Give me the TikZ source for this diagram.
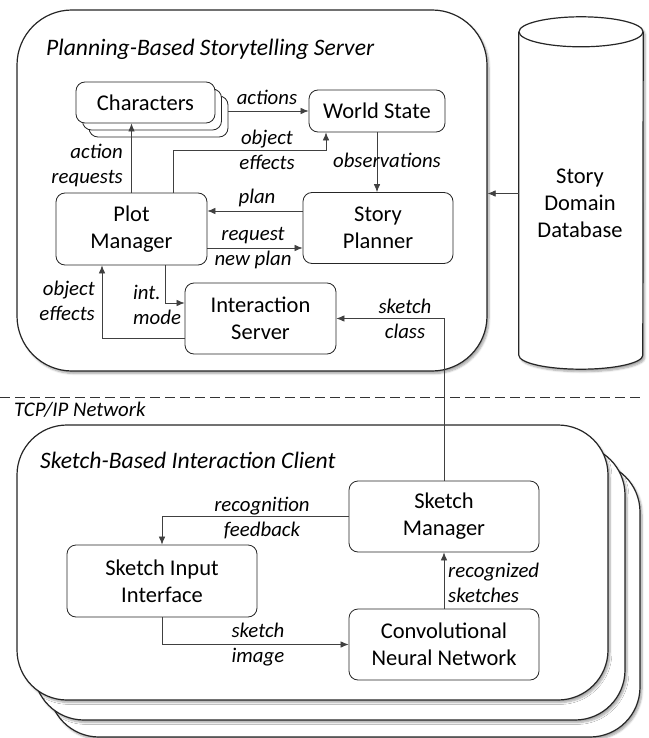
\documentclass[tikz,border=0pt]{standalone}
\usepackage{fontspec}
\setmainfont{Carlito}
\usetikzlibrary{arrows.meta,shadows.blur,calc}

\tikzset{
  boxtext/.style={font=\fontsize{22.5}{27}\selectfont},
  lbl/.style={font=\fontsize{20.8}{25}\selectfont\itshape, inner sep=0pt},
  grouptitle/.style={anchor=base west, inner sep=0pt, font=\fontsize{23.6}{28}\selectfont\itshape},
  unit/.style={draw=black!85, line width=0.8pt, fill=white, rounded corners=9pt,
    align=center, inner sep=0pt, boxtext},
  group/.style={draw=black!85, line width=1.2pt, fill=white, inner sep=0pt,
    blur shadow={shadow xshift=2pt, shadow yshift=-2.5pt, shadow blur steps=6,
      shadow opacity=35}},
  link/.style={draw=black!75, line width=0.7pt},
  arr/.style={link, -{Latex[length=8pt,width=6.5pt]}},
}

\begin{document}
\begin{tikzpicture}[x=1pt,y=-1pt]
\useasboundingbox (0,0) rectangle (648,738);

% ---------- server side ----------
\node[group, rounded corners=55pt, minimum width=470pt, minimum height=361pt]
  (server) at (252,190.5) {};
\node[grouptitle] (servertitle) at (46,56) {Planning-Based Storytelling Server};

% story domain database (cylinder)
\node[minimum width=124pt, minimum height=323pt, inner sep=0pt] (dbbody) at (581,193.5) {};
\fill[white, blur shadow={shadow xshift=2pt, shadow yshift=-2.5pt, shadow blur steps=6, shadow opacity=35}]
  (dbbody.north west) -- (dbbody.south west)
  arc[start angle=180, end angle=360, x radius=62pt, y radius=14pt]
  -- (dbbody.north east)
  arc[start angle=0, end angle=180, x radius=62pt, y radius=15pt] -- cycle;
\draw[draw=black!85, line width=1.2pt]
  (dbbody.north west) -- (dbbody.south west)
  arc[start angle=180, end angle=360, x radius=62pt, y radius=14pt]
  -- (dbbody.north east);
\draw[draw=black!85, line width=1.2pt, fill=white]
  (dbbody.north) ellipse[x radius=62pt, y radius=15pt];
\node[align=center, boxtext, inner sep=0pt] (db) at (580,203) {Story\\Domain\\Database};

% characters (stacked)
\node[unit, minimum width=139pt, minimum height=41pt] (chars3) at (158.5,116.5) {};
\node[unit, minimum width=139pt, minimum height=41pt] (chars2) at (152,109.5) {};
\node[unit, minimum width=139pt, minimum height=41pt] (chars) at (145.5,102.5) {Characters};

\node[unit, minimum width=136pt, minimum height=42pt] (world) at (377,111) {World State};
\node[unit, minimum width=150pt, minimum height=71pt] (planner) at (378,228) {Story\\Planner};
\node[unit, minimum width=151pt, minimum height=72pt] (plot) at (131.5,229) {Plot\\Manager};
\node[unit, minimum width=151pt, minimum height=71pt] (inter) at (260.5,318.5) {Interaction\\Server};

% ---------- network ----------
\coordinate (netl) at (0,397);
\coordinate (netr) at (641,397);
\draw[black!80, line width=0.8pt, dash pattern=on 10pt off 5pt] (netl) -- (netr);
\node[lbl, anchor=base west] (net) at (14,416) {TCP/IP Network};

% ---------- client side ----------
\node[group, rounded corners=50pt, minimum width=591pt, minimum height=275pt]
  (client3) at (344.5,599.5) {};
\node[group, rounded corners=50pt, minimum width=591pt, minimum height=275pt]
  (client2) at (329.5,582.5) {};
\node[group, rounded corners=50pt, minimum width=591pt, minimum height=275pt]
  (client) at (312.5,562.5) {};
\node[grouptitle] (clienttitle) at (40,468) {Sketch-Based Interaction Client};

\node[unit, minimum width=190pt, minimum height=71pt] (skm) at (444,516.5) {Sketch\\Manager};
\node[unit, minimum width=190pt, minimum height=72pt] (sii) at (162,581) {Sketch Input\\Interface};
\node[unit, minimum width=190pt, minimum height=71pt] (cnn) at (444,644.5) {Convolutional\\Neural Network};

% ---------- connectors ----------
\draw[arr] (world.west -| chars3.east) -- (world.west);
\node[lbl] (lactions) at (267,97) {actions};

\coordinate (oea) at (173,150);
\coordinate (oeb) at (326,150);
\draw[arr] (plot.north -| oea) -- (oea) -- (oeb) -- (oeb |- world.south);
\node[lbl, align=center] (loe1) at (267,150) {object\\effects};

\draw[arr] (world.south) -- (world.south |- planner.north);
\node[lbl] (lobs) at (387,160) {observations};

\coordinate (pla) at ([yshift=17pt]planner.west);
\draw[arr] (pla) -- (pla -| plot.east);
\node[lbl] (lplan) at (257,198) {plan};

\coordinate (rqa) at ([yshift=-19pt]plot.east);
\draw[arr] (rqa) -- (rqa -| planner.west);
\node[lbl, align=center] (lreq) at (253,248.5) {request\\new plan};

\draw[arr] (plot.north) -- (plot.north |- chars.south);
\node[lbl, align=right, anchor=east] (lar) at (123,165.5) {action\\requests};

\coordinate (ima) at (165,303);
\draw[arr] (plot.south -| ima) -- (ima) -- (ima -| inter.west);
\node[lbl, align=left, anchor=west] (lim) at (133,304.5) {int.\\mode};

\coordinate (oec) at (102,338);
\draw[arr] (oec -| inter.west) -- (oec) -- (oec |- plot.south);
\node[lbl, align=right, anchor=east] (loe2) at (95,300.5) {object\\effects};

\draw[arr] (skm.north) |- (inter.east);
\node[lbl, align=center] (lsc) at (405,318.5) {sketch\\class};

\draw[arr] (dbbody.west) -- (dbbody.west -| server.east);

\draw[arr] (skm.west) -| (sii.north);
\node[lbl, align=center] (lrf) at (262,518.5) {recognition\\feedback};

\draw[arr] (sii.south) |- (cnn.west);
\node[lbl, align=center] (lsi) at (258,644.5) {sketch\\image};

\draw[arr] (cnn.north) -- (skm.south);
\node[lbl, align=left, anchor=west] (lrs) at (448,582.5) {recognized\\sketches};
\end{tikzpicture}
\end{document}
